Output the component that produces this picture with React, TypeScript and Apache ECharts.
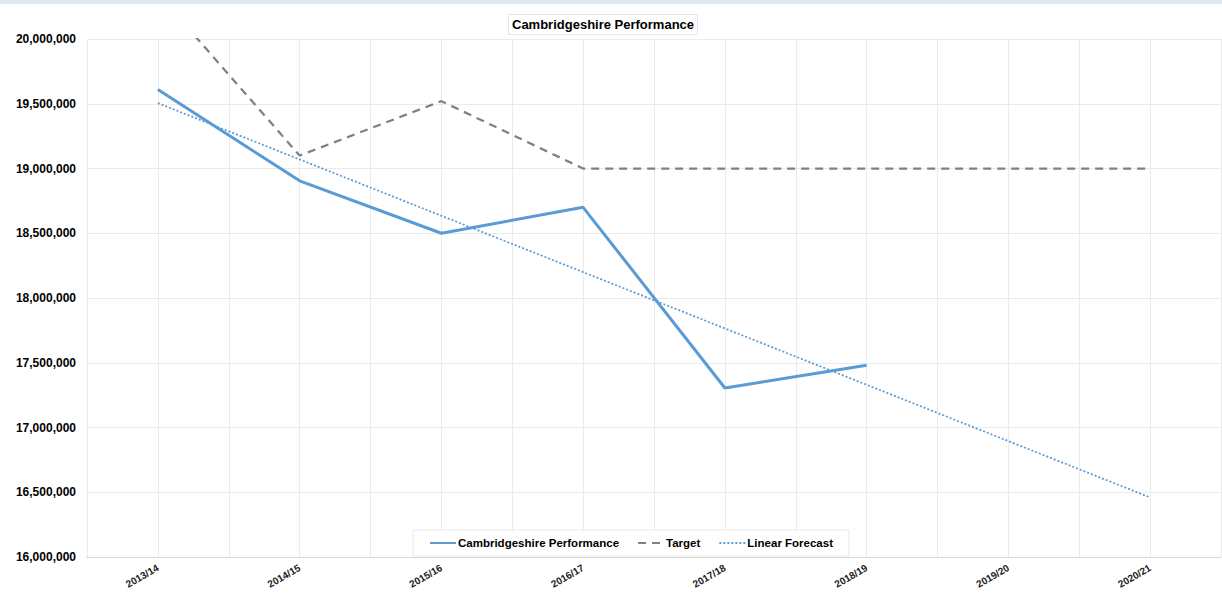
import React, { useEffect, useRef } from "react";
import * as echarts from "echarts";

const categories = ["2013/14", "2014/15", "2015/16", "2016/17", "2017/18", "2018/19", "2019/20", "2020/21"];
const performance = [19610000, 18905000, 18500000, 18700000, 17305000, 17480000];
const target = [20350000, 19100000, 19520000, 19000000, 19000000, 19000000, 19000000, 19000000];
const linearForecast = [19505000, 19070000, 18635000, 18200000, 17765000, 17330000, 16895000, 16460000];
const yTicks = { min: 16000000, max: 20000000, interval: 500000 };

const FONT = "'Liberation Sans', Arial, sans-serif";

export default function App() {
  const ref = useRef<HTMLDivElement>(null);
  useEffect(() => {
    document.body.style.margin = "0";
    const chart = echarts.init(ref.current!, null, { renderer: "svg" });
    chart.setOption({
      animation: false,
      backgroundColor: "#ffffff",
      textStyle: { fontFamily: FONT },
      graphic: [
        { type: "rect", left: 0, top: 0, shape: { width: 1222, height: 4 }, style: { fill: "#dfe7ef" }, z: 100 },
      ],
      title: {
        text: "Cambridgeshire Performance",
        left: 508,
        top: 14,
        padding: [4, 4],
        backgroundColor: "#ffffff",
        borderColor: "#e6e6e6",
        borderWidth: 1,
        textStyle: { fontSize: 13, fontWeight: "bold", color: "#000", fontFamily: FONT },
        z: 10,
      },
      legend: {
        data: ["Cambridgeshire Performance", "Target", "Linear Forecast"],
        left: 413,
        top: 530,
        padding: [7, 16, 7, 16],
        itemWidth: 26,
        itemHeight: 10,
        itemGap: 18,
        backgroundColor: "#ffffff",
        borderColor: "#e8e8e8",
        borderWidth: 1,
        itemStyle: { opacity: 0 },
        textStyle: { fontSize: 11.5, fontWeight: "bold", color: "#000", fontFamily: FONT, padding: [0, 0, 0, -3] },
        z: 10,
      },
      grid: { left: 87, right: 1, top: 39, bottom: 51, containLabel: false },
      xAxis: [
        {
          type: "category",
          data: categories,
          boundaryGap: true,
          axisLine: { show: true, lineStyle: { color: "#d9d9d9", width: 1 } },
          axisTick: { show: false },
          splitLine: { show: false },
          axisLabel: {
            rotate: 30,
            fontSize: 10,
            fontWeight: "bold",
            color: "#222",
            margin: 10,
            interval: 0,
            fontFamily: FONT,
          },
        },
        {
          type: "value",
          min: 0,
          max: 16,
          interval: 1,
          position: "top",
          axisLine: { show: false },
          axisTick: { show: false },
          axisLabel: { show: false },
          splitLine: { show: true, lineStyle: { color: "#ebebeb", width: 1 } },
        },
      ],
      yAxis: {
        type: "value",
        min: yTicks.min,
        max: yTicks.max,
        interval: yTicks.interval,
        axisLine: { show: false },
        axisTick: { show: false },
        splitLine: { show: true, lineStyle: { color: "#ebebeb", width: 1 } },
        axisLabel: {
          fontSize: 12,
          fontWeight: "bold",
          color: "#000",
          margin: 11,
          fontFamily: FONT,
          formatter: (v: number) => v.toLocaleString("en-US"),
        },
      },
      series: [
        {
          name: "Cambridgeshire Performance",
          type: "line",
          data: performance,
          symbol: "none",
          clip: true,
          lineStyle: { color: "#5b9bd5", width: 3 },
          itemStyle: { color: "#5b9bd5" },
          z: 5,
        },
        {
          name: "Target",
          type: "line",
          data: target,
          symbol: "none",
          clip: true,
          lineStyle: { color: "#808080", width: 2.25, type: [8, 6] },
          itemStyle: { color: "#808080" },
          z: 4,
        },
        {
          name: "Linear Forecast",
          type: "line",
          data: linearForecast,
          symbol: "none",
          clip: true,
          lineStyle: { color: "#5b9bd5", width: 1.75, type: [2, 2] },
          itemStyle: { color: "#5b9bd5" },
          z: 3,
        },
      ],
    });
    return () => chart.dispose();
  }, []);
  return <div ref={ref} style={{ width: 1222, height: 608 }} />;
}
